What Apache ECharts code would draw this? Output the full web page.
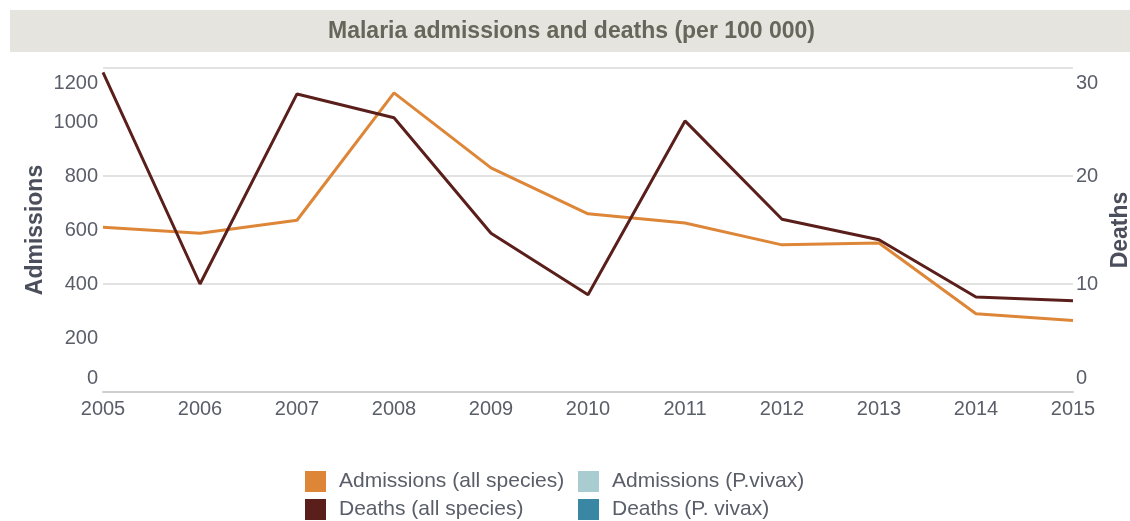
<!DOCTYPE html>
<html>
<head>
<meta charset="utf-8">
<title>Malaria admissions and deaths</title>
<script src="https://cdn.jsdelivr.net/npm/echarts@6/dist/echarts.min.js"></script>
<style>
  html, body { margin: 0; padding: 0; background: #ffffff; }
  #chart { width: 1130px; height: 521px; }
</style>
</head>
<body>
<div id="chart"></div>
<script>
// Years on the horizontal axis
const years = ['2005', '2006', '2007', '2008', '2009', '2010', '2011', '2012', '2013', '2014', '2015'];

// Admissions per 100 000 (left axis)
const admissionsAll = [610, 588, 636, 1108, 830, 660, 626, 545, 552, 290, 265];
const admissionsVivax = [];

// Deaths per 100 000 (right axis)
const deathsAll = [29.6, 10.0, 27.6, 25.4, 14.7, 9.0, 25.1, 16.0, 14.1, 8.8, 8.45];
const deathsVivax = [];

// Axis ranges and label steps
const admissionsMax = 1200, admissionsStep = 200;
const deathsMax = 30, deathsStep = 10;

const colors = {
  admissionsAll: '#dd8638',
  admissionsVivax: '#a9ccd0',
  deathsAll: '#5a1f1b',
  deathsVivax: '#3a87a3'
};

const labelColor = '#5a5e69';
const fontFamily = '"Liberation Sans", Arial, sans-serif';
const tickFont = 20;

// Top label is nudged down and bottom label nudged up so they stay inside the plot height
function edgeLabel(maxVal) {
  return function (v) {
    if (v === maxVal) return '{top|' + v + '}';
    if (v === 0) return '{bot|' + v + '}';
    return String(v);
  };
}
const edgeRich = {
  top: { padding: [30, 0, 0, 0], fontSize: tickFont, color: labelColor, fontFamily: fontFamily },
  bot: { padding: [0, 0, 28, 0], fontSize: tickFont, color: labelColor, fontFamily: fontFamily }
};

// One legend block per entry so the four keys sit in a 2 x 2 layout
function legendBlock(name, left, top) {
  return {
    orient: 'horizontal',
    left: left,
    top: top,
    padding: 0,
    itemWidth: 21,
    itemHeight: 21,
    icon: 'rect',
    selectedMode: false,
    textStyle: { fontSize: 21, color: labelColor, fontFamily: fontFamily, padding: [0, 0, 0, 8] },
    data: [name]
  };
}

const chart = echarts.init(document.getElementById('chart'), null, { renderer: 'canvas' });

chart.setOption({
  animation: false,
  backgroundColor: '#ffffff',
  graphic: [{
    type: 'rect',
    shape: { x: 10, y: 10, width: 1120, height: 42 },
    style: { fill: '#e5e4df' },
    z: 0
  }],
  title: {
    text: 'Malaria admissions and deaths (per 100 000)',
    left: 328,
    top: 20,
    padding: 0,
    textStyle: {
      fontFamily: fontFamily,
      fontWeight: 'bold',
      fontSize: 23,
      color: '#67665a'
    }
  },
  legend: [
    legendBlock('Admissions (all species)', 305, 471),
    legendBlock('Deaths (all species)', 305, 499),
    legendBlock('Admissions (P.vivax)', 578, 471),
    legendBlock('Deaths (P. vivax)', 578, 499)
  ],
  grid: { left: 103, right: 57, top: 68, bottom: 129, containLabel: false, outerBoundsMode: 'none' },
  xAxis: {
    type: 'category',
    data: years,
    boundaryGap: false,
    axisLine: { lineStyle: { color: '#cfcfcf', width: 2 } },
    axisTick: { show: false },
    axisLabel: { fontSize: tickFont, color: labelColor, fontFamily: fontFamily, margin: 7 }
  },
  yAxis: [{
    type: 'value',
    min: 0,
    max: admissionsMax,
    interval: admissionsStep,
    name: 'Admissions',
    nameLocation: 'middle',
    nameRotate: 90,
    nameGap: 56,
    nameMoveOverlap: false,
    nameTextStyle: { fontSize: 23, fontWeight: 'bold', color: '#4b4f5c', fontFamily: fontFamily },
    axisLine: { show: false },
    axisTick: { show: false },
    splitLine: { show: false },
    axisLabel: {
      fontSize: tickFont, color: labelColor, fontFamily: fontFamily, margin: 5,
      formatter: edgeLabel(admissionsMax), rich: edgeRich
    }
  }, {
    type: 'value',
    min: 0,
    max: deathsMax,
    interval: deathsStep,
    name: 'Deaths',
    nameLocation: 'middle',
    nameRotate: 90,
    nameGap: 35,
    nameTextStyle: { fontSize: 23, fontWeight: 'bold', color: '#4b4f5c', fontFamily: fontFamily },
    axisLine: { show: false },
    axisTick: { show: false },
    splitLine: { show: true, lineStyle: { color: '#e2e2e2', width: 2 } },
    axisLabel: {
      fontSize: tickFont, color: labelColor, fontFamily: fontFamily, margin: 3,
      formatter: edgeLabel(deathsMax), rich: edgeRich
    }
  }],
  series: [{
    name: 'Admissions (all species)',
    type: 'line',
    yAxisIndex: 0,
    data: admissionsAll,
    symbol: 'none',
    color: colors.admissionsAll,
    lineStyle: { width: 3, color: colors.admissionsAll },
    z: 3
  }, {
    name: 'Admissions (P.vivax)',
    type: 'line',
    yAxisIndex: 0,
    data: admissionsVivax,
    symbol: 'none',
    color: colors.admissionsVivax,
    lineStyle: { width: 3, color: colors.admissionsVivax }
  }, {
    name: 'Deaths (all species)',
    type: 'line',
    yAxisIndex: 1,
    data: deathsAll,
    symbol: 'none',
    color: colors.deathsAll,
    lineStyle: { width: 3, color: colors.deathsAll },
    z: 4
  }, {
    name: 'Deaths (P. vivax)',
    type: 'line',
    yAxisIndex: 1,
    data: deathsVivax,
    symbol: 'none',
    color: colors.deathsVivax,
    lineStyle: { width: 3, color: colors.deathsVivax }
  }]
});
</script>
</body>
</html>
